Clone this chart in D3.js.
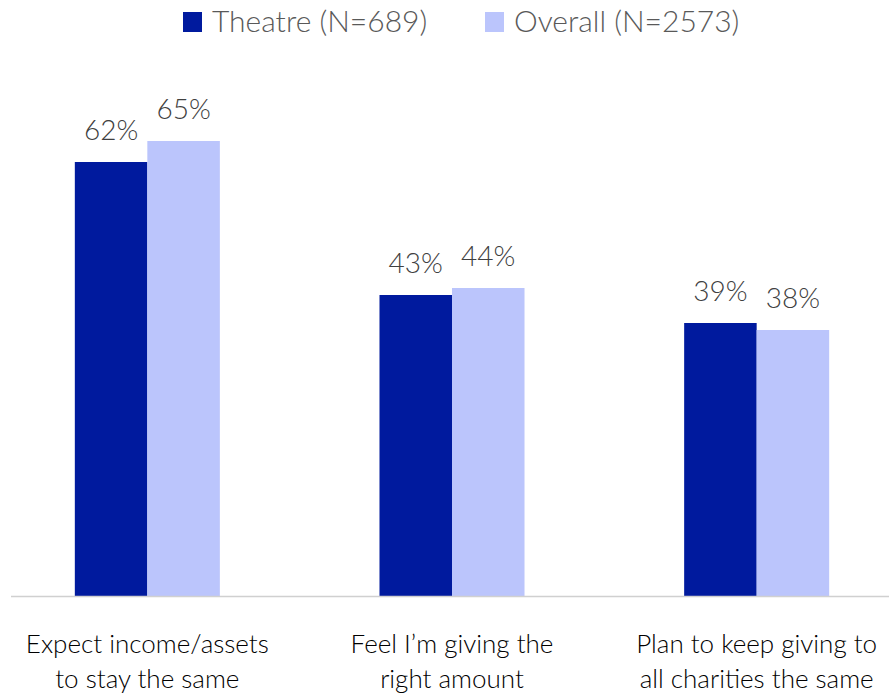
<!DOCTYPE html>
<html>
<head>
<meta charset="utf-8">
<script src="https://cdn.jsdelivr.net/npm/d3@7.9.0/dist/d3.min.js"></script>
<style>
  body { margin: 0; background: #fff; }
  svg { display: block; font-family: 'Lato', 'Noto Sans', sans-serif; }
</style>
</head>
<body>
<svg id="chart" width="889" height="695"></svg>
<script>
const categories = [
  ['Expect income/assets', 'to stay the same'],
  ['Feel I\u2019m giving the', 'right amount'],
  ['Plan to keep giving to', 'all charities the same']
];
const seriesNames = ['Theatre (N=689)', 'Overall (N=2573)'];
const theatre = [62, 43, 39];
const overall = [65, 44, 38];
const colors = ['#001a9e', '#bbc5fc'];

const svg = d3.select('#chart');
const baseline = 596;

const x0 = d3.scaleBand()
  .domain(d3.range(categories.length))
  .range([-5, 909])
  .paddingInner(0.524)
  .paddingOuter(0.262);

const x1 = d3.scaleBand()
  .domain([0, 1])
  .range([0, x0.bandwidth()]);

const y = d3.scaleLinear().domain([0, 100]).range([baseline, baseline - 700]);

const series = [theatre, overall];

// bars
series.forEach((vals, s) => {
  svg.append('g')
    .selectAll('rect')
    .data(vals)
    .join('rect')
    .attr('x', (d, i) => x0(i) + x1(s))
    .attr('y', (d) => y(d))
    .attr('width', x1.bandwidth())
    .attr('height', (d) => baseline - y(d))
    .attr('fill', colors[s]);

  svg.append('g')
    .selectAll('text')
    .data(vals)
    .join('text')
    .attr('x', (d, i) => x0(i) + x1(s) + x1.bandwidth() / 2)
    .attr('y', (d) => y(d) - 22)
    .attr('text-anchor', 'middle')
    .attr('font-size', 28)
    .attr('font-weight', 300)
    .attr('fill', '#404040')
    .text((d) => `${d}%`);
});

// axis line
svg.append('line')
  .attr('x1', 11)
  .attr('x2', 889)
  .attr('y1', baseline + 0.5)
  .attr('y2', baseline + 0.5)
  .attr('stroke', '#d0d0d0')
  .attr('stroke-width', 1.5);

// category labels
const cat = svg.append('g')
  .selectAll('text')
  .data(categories)
  .join('text')
  .attr('x', (d, i) => x0(i) + x0.bandwidth() / 2)
  .attr('y', 653)
  .attr('text-anchor', 'middle')
  .attr('font-size', 26)
  .attr('font-weight', 300)
  .attr('fill', '#000');

cat.selectAll('tspan')
  .data((d) => d)
  .join('tspan')
  .attr('x', function () { return d3.select(this.parentNode).attr('x'); })
  .attr('dy', (d, i) => (i === 0 ? 0 : 35))
  .text((d) => d);

// legend
const legendX = [183, 485];
seriesNames.forEach((name, s) => {
  svg.append('rect')
    .attr('x', legendX[s])
    .attr('y', 12)
    .attr('width', 19)
    .attr('height', 20)
    .attr('fill', colors[s]);
  svg.append('text')
    .attr('x', legendX[s] + 29)
    .attr('y', 32)
    .attr('font-size', 30)
    .attr('font-weight', 300)
    .attr('fill', '#595959')
    .text(name);
});
</script>
</body>
</html>
